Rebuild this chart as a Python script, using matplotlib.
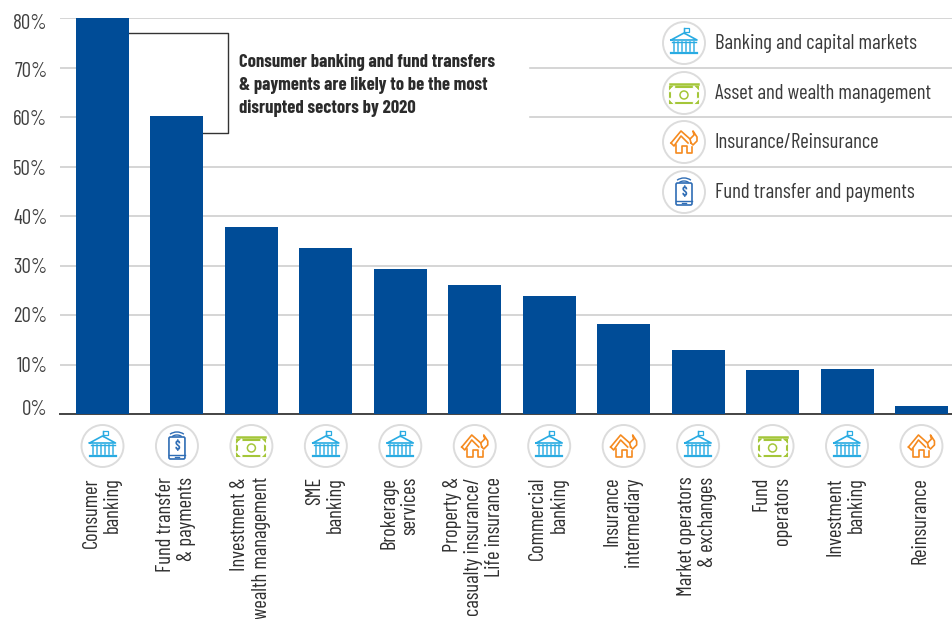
import numpy as np
import matplotlib
matplotlib.use('Agg')
import matplotlib.pyplot as plt
from matplotlib.patches import Circle, Rectangle, FancyBboxPatch, Arc
from matplotlib.transforms import ScaledTranslation

sectors = ['Consumer\nbanking', 'Fund transfer\n& payments', 'Investment &\nwealth management',
           'SME\nbanking', 'Brokerage\nservices', 'Property &\ncasualty insurance/\nLife insurance',
           'Commercial\nbanking', 'Insurance\nintermediary', 'Market operators\n& exchanges',
           'Fund\noperators', 'Investment\nbanking', 'Reinsurance']
values = [80, 60.2, 37.8, 33.5, 29.3, 26, 23.8, 18.2, 12.9, 8.9, 9.1, 1.6]
kinds = ['bank', 'phone', 'money', 'bank', 'bank', 'house', 'bank', 'house', 'bank', 'money', 'bank', 'house']
legend_labels = ['Banking and capital markets', 'Asset and wealth management',
                 'Insurance/Reinsurance', 'Fund transfer and payments']
legend_kinds = ['bank', 'money', 'house', 'phone']
note = 'Consumer banking and fund transfers\n& payments are likely to be the most\ndisrupted sectors by 2020'
yticks = [0, 10, 20, 30, 40, 50, 60, 70, 80]

W, H = 952, 619
BAR = '#004C97'
BANK, MONEY, HOUSE, PHONE = '#29ABE2', '#A4C639', '#F58A1F', '#2F6DB5'
plt.rcParams['font.family'] = ['Barlow Condensed', 'Lato']

fig = plt.figure(figsize=(W / 100, H / 100), dpi=100)
ax = fig.add_axes([60 / W, 1 - 414 / H, (W - 60) / W, 396 / H])
# pixel overlay for the icons
ov = fig.add_axes([0, 0, 1, 1], zorder=5)
ov.set_xlim(0, W); ov.set_ylim(H, 0); ov.axis('off')

x = np.arange(len(values))
ax.set_xlim(-0.5709, 11.41)
ax.set_ylim(0, 80)
ax.yaxis.grid(True, color='#d2d2d2', lw=1.3, zorder=0)
ax.set_axisbelow(True)
ax.bar(x, values, width=0.712, color=BAR, zorder=3)
ax.add_patch(Rectangle((0, 57.4), 5.72, 21.9, color='white', zorder=2))
ax.plot([0.356, 1.69, 1.69, 1.356], [77, 77, 56.8, 56.8], color='#333333', lw=1, zorder=2.5)

for s in ['top', 'right', 'left']:
    ax.spines[s].set_visible(False)
ax.spines['bottom'].set_color('#444444')
ax.spines['bottom'].set_linewidth(1.4)
ax.set_xticks([])
ax.set_yticks(yticks)
ax.set_yticklabels([f'{v}%' for v in yticks], fontsize=15, color='#404040')
ax.tick_params(axis='y', length=0, pad=9)
# the source labels do not sit exactly on their gridlines
nudge = {0: 4.7, 40: -0.7, 50: -0.7, 60: -0.7, 70: -1.4, 80: -2.7}
for v, lab in zip(yticks, ax.get_yticklabels()):
    if v in nudge:
        lab.set_transform(lab.get_transform() + ScaledTranslation(0, nudge[v] / 72, fig.dpi_scale_trans))

ov.text(239, 85, note, fontsize=13.4, fontweight='bold', color='#2b2b2b',
        va='center', ha='left', linespacing=1.42, zorder=6)


def icon(kind, cx, cy):
    ov.add_patch(Circle((cx, cy), 21, fc='white', ec='#dcdcdc', lw=1.4))
    if kind == 'bank':
        c = BANK
        ov.plot([cx - 13, cx, cx + 13, cx - 13], [cy - 3, cy - 10, cy - 3, cy - 3], color=c, lw=1.2)
        ov.plot([cx, cx], [cy - 10, cy - 15], color=c, lw=1)
        ov.add_patch(Rectangle((cx, cy - 15), 5, 4, fc='white', ec=c, lw=0.9))
        ov.plot([cx - 12, cx + 12], [cy - 1, cy - 1], color=c, lw=1)
        for dx in [-10, -6, -2, 2, 6, 10]:
            ov.plot([cx + dx, cx + dx], [cy - 1, cy + 8], color=c, lw=1.2, alpha=0.85)
        ov.plot([cx - 13, cx + 13], [cy + 10, cy + 10], color=c, lw=1.6)
    elif kind == 'money':
        c = MONEY
        ov.plot([cx - 14, cx + 14], [cy - 9, cy - 9], color=c, lw=1.8)
        ov.add_patch(Rectangle((cx - 14, cy - 6), 28, 16, fc='none', ec=c, lw=1.5))
        ov.add_patch(Circle((cx, cy + 2), 4, fc='none', ec=c, lw=1.1))
        for sx in (-1, 1):
            ov.plot([cx + sx * 14, cx + sx * 10], [cy - 2, cy - 6], color='white', lw=1.6)
            ov.plot([cx + sx * 14, cx + sx * 10], [cy + 6, cy + 10], color='white', lw=1.6)
    elif kind == 'house':
        c = HOUSE
        ov.plot([cx - 13, cx - 3, cx + 6], [cy + 1, cy - 11, cy - 3], color=c, lw=1.2)
        ov.plot([cx - 13, cx - 10, cx - 3, cx + 4], [cy + 1, cy + 4, cy - 6, cy + 1], color=c, lw=1.2)
        ov.plot([cx - 8, cx - 8, cx - 2, cx - 2, cx + 3, cx + 3, cx + 8, cx + 8],
                [cy + 3, cy + 11, cy + 11, cy + 4, cy + 4, cy + 11, cy + 11, cy + 5], color=c, lw=1.2)
        ov.plot([cx + 7, cx + 6, cx + 10, cx + 9, cx + 13, cx + 13, cx + 9, cx + 7],
                [cy + 1, cy - 3, cy - 7, cy - 11, cy - 5, cy - 1, cy + 3, cy + 1], color=c, lw=1.2)
    else:
        c = PHONE
        ov.add_patch(FancyBboxPatch((cx - 8, cy - 9), 16, 22, boxstyle='round,pad=0,rounding_size=1.5',
                                    fc='white', ec=c, lw=1.2))
        ov.plot([cx - 8, cx + 8], [cy + 9, cy + 9], color=c, lw=1)
        ov.plot([cx - 2, cx + 2], [cy + 11, cy + 11], color=c, lw=1)
        ov.add_patch(Arc((cx, cy - 6), 20, 16, theta1=220, theta2=320, color=c, lw=1))
        ov.add_patch(Arc((cx, cy - 6), 13, 10, theta1=215, theta2=325, color=c, lw=1))
        ov.text(cx, cy + 0.5, '$', color=c, fontsize=9, fontweight='bold', ha='center', va='center')


for i, kind in enumerate(kinds):
    px = 102.5 + 74.45 * i
    icon(kind, px, 446)
    ov.text(px - 1, 477, sectors[i], rotation=90, ha='center', va='top', multialignment='right',
            fontsize=14.8, color='#2f2f2f', linespacing=1.15, clip_on=True)

for j, (lab, kind) in enumerate(zip(legend_labels, legend_kinds)):
    cy = [43, 93, 142, 192][j]
    icon(kind, 684, cy)
    ov.text(715, cy + 0.5, lab, fontsize=15, color='#3a3a3a', ha='left', va='center')

fig.savefig('out.png', dpi=100)
